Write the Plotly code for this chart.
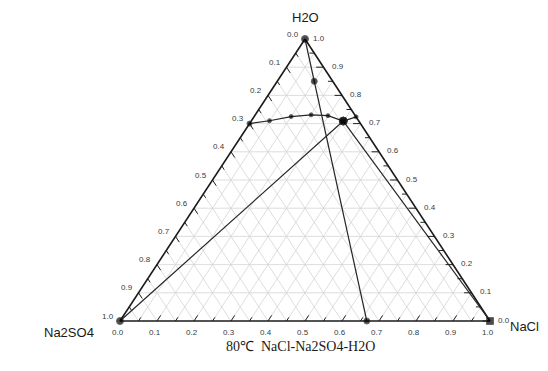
import plotly.graph_objects as go

# ---------------- data (mass fractions: H2O, Na2SO4, NaCl) ----------------
# Na2SO4 saturation branch (from Na2SO4 solubility on the H2O-Na2SO4 edge to invariant point)
sol_na2so4_h2o = [0.700, 0.710, 0.725, 0.731, 0.728, 0.709]
sol_na2so4_na2so4 = [0.300, 0.241, 0.175, 0.118, 0.074, 0.042]
sol_na2so4_nacl = [0.000, 0.049, 0.100, 0.151, 0.198, 0.249]

# NaCl saturation branch (invariant point to NaCl solubility on the H2O-NaCl edge)
sol_nacl_h2o = [0.709, 0.724]
sol_nacl_na2so4 = [0.042, 0.000]
sol_nacl_nacl = [0.249, 0.276]

# tie line Na2SO4 corner -> invariant point
tie_na2so4_h2o = [0.0, 0.709]
tie_na2so4_na2so4 = [1.0, 0.042]
tie_na2so4_nacl = [0.0, 0.249]

# tie line NaCl corner -> invariant point
tie_nacl_h2o = [0.0, 0.709]
tie_nacl_na2so4 = [0.0, 0.042]
tie_nacl_nacl = [1.0, 0.249]

# dilution line from H2O corner through a system point to the dry salt mixture
dil_h2o = [1.0, 0.85, 0.0]
dil_na2so4 = [0.0, 0.05, 0.333]
dil_nacl = [0.0, 0.10, 0.667]

tick_vals = [i / 10 for i in range(11)]
tick_text = ["%.1f" % v for v in tick_vals]
minor_vals = [0.05 + i / 10 for i in range(10)]
grid_h2o_vals = [i / 10 for i in range(1, 10)]
grid_diag_vals = [i / 20 for i in range(1, 20)]

# figure size (page body has an 8px margin)
W, H = 540, 363


def X(w, s, n):
    return [ni + 0.5 * wi for wi, ni in zip(w, n)]


def Y(w, s, n):
    return list(w)


def seg_trace(segs, color, width):
    xs, ys = [], []
    for (w0, s0, n0), (w1, s1, n1) in segs:
        xs += X([w0, w1], None, [n0, n1]) + [None]
        ys += [w0, w1, None]
    return go.Scatter(x=xs, y=ys, mode="lines", line=dict(color=color, width=width),
                      hoverinfo="skip", showlegend=False)


fig = go.Figure()

# grid
grid = []
for h in grid_h2o_vals:
    grid.append(((h, 1 - h, 0), (h, 0, 1 - h)))
for c in grid_diag_vals:
    grid.append(((0, 1 - c, c), (1 - c, 0, c)))
for s in grid_diag_vals:
    grid.append(((0, s, 1 - s), (1 - s, s, 0)))
fig.add_trace(seg_trace(grid, "#d4d4d4", 0.8))

# ticks (inward, along the grid direction of each axis)
L_maj, L_min = 0.02, 0.013
ticks = []
for vals, L in ((tick_vals, L_maj), (minor_vals, L_min)):
    for v in vals:
        if v < 1:
            ticks.append(((1 - v, v, 0), (1 - v - L, v, L)))      # left edge: Na2SO4 axis
            ticks.append(((0, 1 - v, v), (L, 1 - v - L, v)))      # bottom edge: NaCl axis
            ticks.append(((v, 0, 1 - v), (v, L, 1 - v - L)))      # right edge: H2O axis
fig.add_trace(seg_trace(ticks, "#222222", 1.0))

# triangle frame
frame = [((1, 0, 0), (0, 1, 0)), ((0, 1, 0), (0, 0, 1)), ((0, 0, 1), (1, 0, 0))]
fig.add_trace(seg_trace(frame, "#1a1a1a", 1.6))

line_col = "#262626"

# tie lines
fig.add_trace(go.Scatter(x=X(tie_na2so4_h2o, tie_na2so4_na2so4, tie_na2so4_nacl), y=Y(tie_na2so4_h2o, tie_na2so4_na2so4, tie_na2so4_nacl),
                         mode="lines+markers", line=dict(color=line_col, width=1.2),
                         marker=dict(color="#000", size=[7, 0], symbol="circle"), showlegend=False))
fig.add_trace(go.Scatter(x=X(tie_nacl_h2o, tie_nacl_na2so4, tie_nacl_nacl), y=Y(tie_nacl_h2o, tie_nacl_na2so4, tie_nacl_nacl),
                         mode="lines+markers", line=dict(color=line_col, width=1.2),
                         marker=dict(color="#000", size=[7, 0], symbol="square"), showlegend=False))

# dilution line
fig.add_trace(go.Scatter(x=X(dil_h2o, dil_na2so4, dil_nacl), y=Y(dil_h2o, dil_na2so4, dil_nacl),
                         mode="lines+markers", line=dict(color=line_col, width=1.2),
                         marker=dict(color="#000", size=[7, 6, 6]), showlegend=False))

# solubility curves
fig.add_trace(go.Scatter(x=X(sol_na2so4_h2o, sol_na2so4_na2so4, sol_na2so4_nacl), y=Y(sol_na2so4_h2o, sol_na2so4_na2so4, sol_na2so4_nacl),
                         mode="lines+markers", line=dict(color=line_col, width=1.2),
                         marker=dict(color="#000", size=[5, 4, 4, 4, 4, 8]), showlegend=False))
fig.add_trace(go.Scatter(x=X(sol_nacl_h2o, sol_nacl_na2so4, sol_nacl_nacl), y=Y(sol_nacl_h2o, sol_nacl_na2so4, sol_nacl_nacl),
                         mode="lines+markers", line=dict(color=line_col, width=1.2),
                         marker=dict(color="#000", size=[8, 4]), showlegend=False))

ann = []
tfont = dict(family="Liberation Sans, Arial", size=8, color="#3a3a3a")
for v, t in zip(tick_vals, tick_text):
    # left labels: Na2SO4 fraction
    lx, ly = X([1 - v], None, [0])[0], 1 - v
    ann.append(dict(x=lx, y=ly, text=t, showarrow=False, font=tfont, xanchor="center", yanchor="middle", xshift=-12, yshift=5))
    # bottom labels: NaCl fraction
    bx, by = X([0], None, [v])[0], 0
    ann.append(dict(x=bx, y=by, text=t, showarrow=False, font=tfont, xanchor="center", yanchor="middle", xshift=-2, yshift=-11))
    # right labels: H2O fraction
    rx, ry = X([v], None, [1 - v])[0], v
    ann.append(dict(x=rx, y=ry, text=t, showarrow=False, font=tfont, xanchor="center", yanchor="middle", xshift=14, yshift=1))

vfont = dict(family="Liberation Sans, Arial", size=13, color="#1a1a1a")
ann.append(dict(x=0.5, y=1, text="H2O", showarrow=False, font=vfont, xanchor="center", yanchor="middle", yshift=22))
ann.append(dict(x=0, y=0, text="Na2SO4", showarrow=False, font=vfont, xanchor="right", yanchor="middle", xshift=-24, yshift=-11))
ann.append(dict(x=1, y=0, text="NaCl", showarrow=False, font=vfont, xanchor="left", yanchor="middle", xshift=18, yshift=-5))
ann.append(dict(x=292 / W, y=(H - 338) / H, xref="paper", yref="paper", text="80℃  NaCl-Na2SO4-H2O",
                showarrow=False, font=dict(family="Liberation Serif, Times New Roman", size=14, color="#1a1a1a"),
                xanchor="center", yanchor="middle"))

fig.update_layout(
    width=W, height=H,
    margin=dict(l=0, r=0, t=0, b=0),
    paper_bgcolor="white", plot_bgcolor="white",
    xaxis=dict(range=[-112 / 370, (W - 112) / 370], visible=False, fixedrange=True),
    yaxis=dict(range=[-50 / 282, (H - 50) / 282], visible=False, fixedrange=True),
    annotations=ann,
    showlegend=False,
)

fig.write_html("out.html")
